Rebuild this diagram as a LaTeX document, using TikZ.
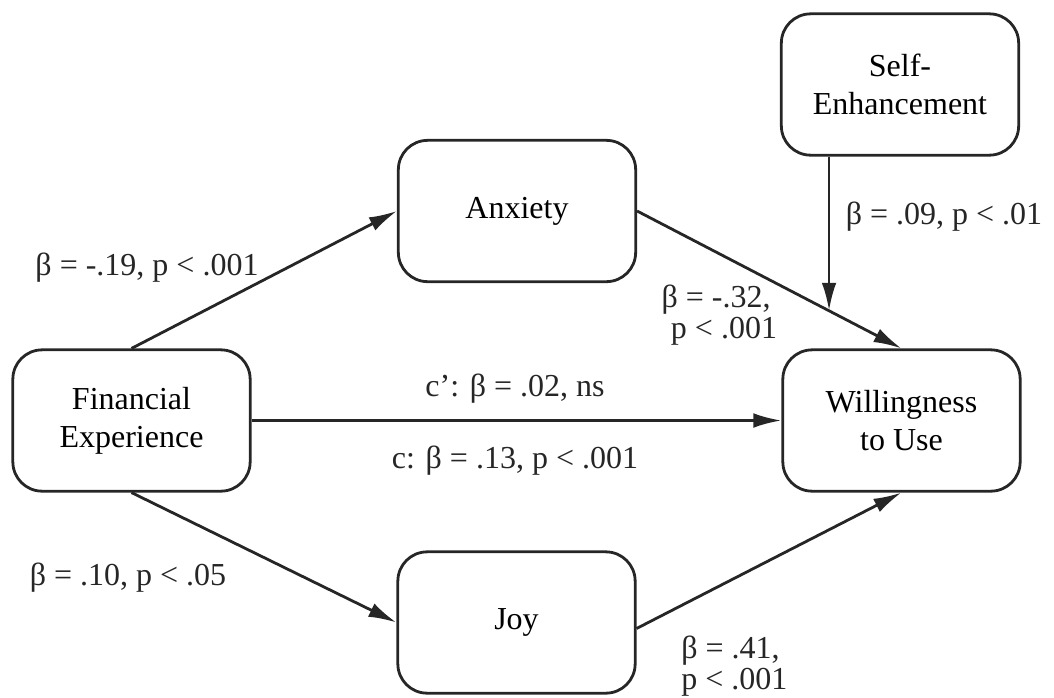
\documentclass[tikz,border=0pt]{standalone}
\usepackage{fontspec}
\setmainfont{Liberation Serif}
\usetikzlibrary{arrows.meta,calc}
\begin{document}
\begin{tikzpicture}[x=0.75pt,y=-0.75pt,
  box/.style={draw=black!85, line width=2.1pt, rounded corners=22pt, minimum width=178pt, minimum height=106pt, align=center, inner sep=0pt, font=\fontsize{24}{28.5}\selectfont},
  lbl/.style={inner sep=0pt, font=\fontsize{24}{23.5}\selectfont, text=black!85},
  arr/.style={draw=black!85, line width=2.1pt, -{Latex[length=21pt,width=11pt]}}]
\useasboundingbox (0,0) rectangle (1054,697);
\node[box] (fe) at (131.5,420.5) {Financial\\Experience};
\node[box] (anx) at (517,211) {Anxiety};
\node[box] (se) at (900,84.5) {Self-\\Enhancement};
\node[box] (wtu) at (901.5,420.5) {Willingness\\to Use};
\node[box] (joy) at (516.5,622.5) {Joy};
\draw[arr] (fe.north) -- (anx.west);
\draw[arr] (anx.east) -- (wtu.north) coordinate[pos=0.726] (mod);
\draw[arr] (se.south -| mod) -- (mod);
\draw[arr] (fe.east) -- (wtu.west);
\draw[arr] (fe.south) -- (joy.west);
\draw[arr] ($(joy.east)+(0,6)$) -- (wtu.south);
\node[lbl] (l1) at (147,268) {β = -.19, p < .001};
\node[lbl, align=center] (l2) at (716,315) {β = -.32,\\ \hspace*{12pt}p < .001};
\node[lbl] (l3) at (944,217) {β = .09, p < .01};
\node[lbl] (l4) at (515,389) {c’: β = .02, ns};
\node[lbl] (l5) at (515,461) {c: β = .13, p < .001};
\node[lbl] (l6) at (128,578) {β = .10, p < .05};
\node[lbl, align=left, anchor=west] (l7) at (681,666) {β = .41,\\p < .001};
\end{tikzpicture}
\end{document}
